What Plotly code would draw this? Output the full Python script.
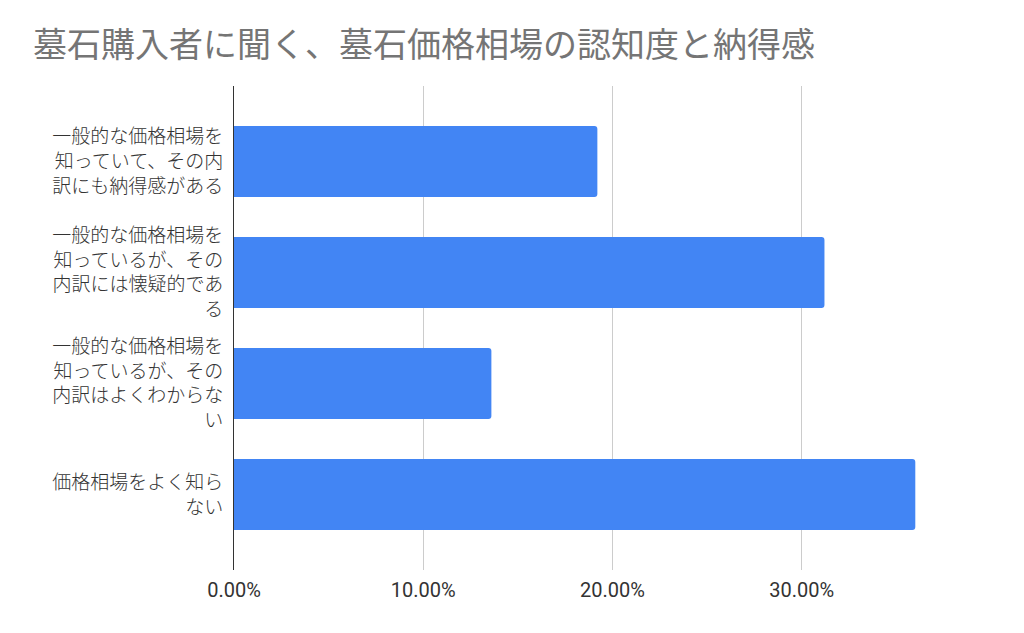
import plotly.graph_objects as go

# survey answers (top to bottom) and share of respondents in %
categories = [
    "一般的な価格相場を<br>知っていて、その内<br>訳にも納得感がある",
    "一般的な価格相場を<br>知っているが、その<br>内訳には懐疑的であ<br>る",
    "一般的な価格相場を<br>知っているが、その<br>内訳はよくわからな<br>い",
    "価格相場をよく知ら<br>ない",
]
shares = [19.2, 31.2, 13.6, 36.0]

tick_vals = [0, 10, 20, 30, 40]
tick_text = ["0.00%", "10.00%", "20.00%", "30.00%", ""]

title = "墓石購入者に聞く、墓石価格相場の認知度と納得感"

# the page body adds an 8px offset, margins below already account for it
fig = go.Figure(go.Bar(
    x=shares,
    y=categories,
    orientation="h",
    marker=dict(color="#4285F4", line=dict(width=0)),
    width=0.64,
))

fig.update_layout(
    width=1024, height=633,
    paper_bgcolor="white", plot_bgcolor="white",
    margin=dict(l=226, r=41, t=78, b=71),
    font=dict(family="Roboto, 'Noto Sans CJK JP', sans-serif", color="#222222"),
    barcornerradius=3,
    title=dict(
        text=title,
        x=25 / 1024, xanchor="left", xref="container",
        y=1 - 37 / 633, yanchor="middle", yref="container",
        font=dict(size=34, color="#757575", family="'Noto Sans CJK JP', sans-serif"),
    ),
    showlegend=False,
)

fig.update_xaxes(
    range=[0, 40],
    tickvals=tick_vals,
    ticktext=tick_text,
    showgrid=True, gridcolor="#cccccc", gridwidth=1,
    zeroline=False, showline=False,
    tickfont=dict(size=20, color="#333333"),
    ticks="", ticklabelstandoff=6,
    automargin=False,
)

fig.update_yaxes(
    range=[3.68, -0.68],
    showgrid=False,
    showline=True, linecolor="#333333", linewidth=1,
    tickfont=dict(size=19, color="#333333", family="'Noto Sans CJK JP', sans-serif", weight=300),
    ticks="", ticklabelstandoff=6,
    automargin=False,
)

fig.write_html("out.html")
